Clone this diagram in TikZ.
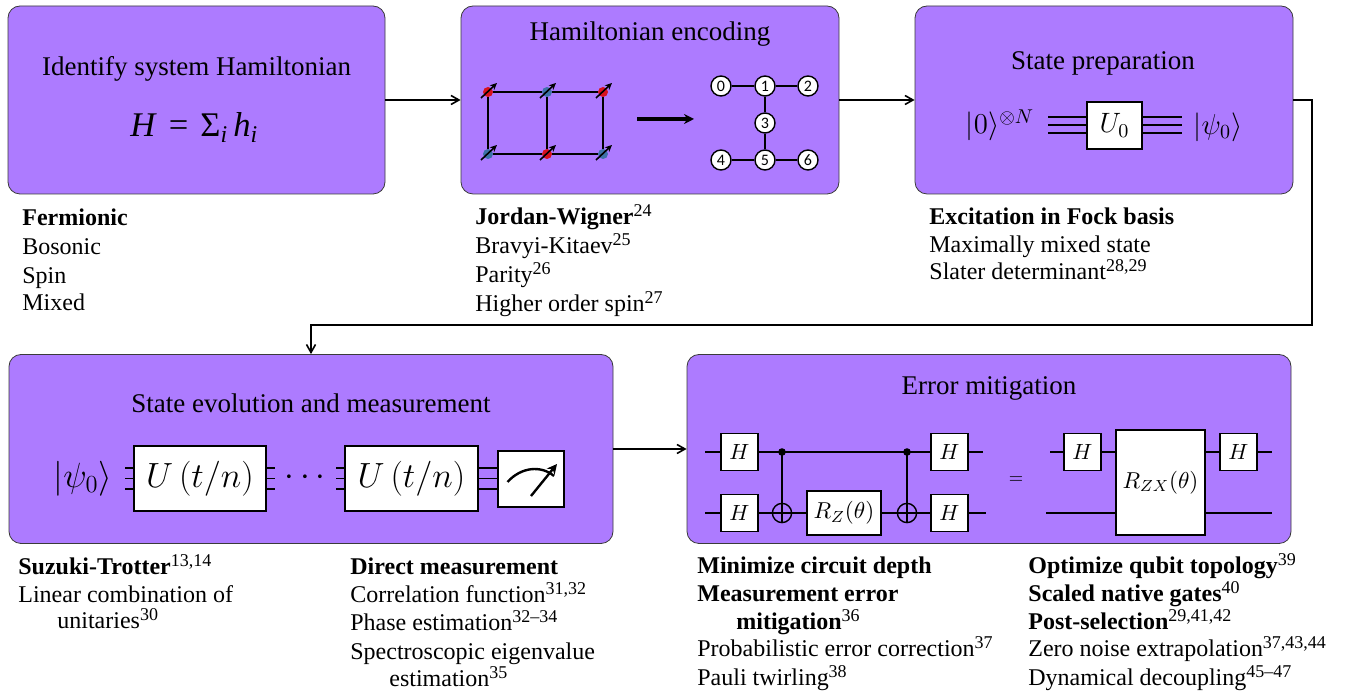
\documentclass[tikz,border=0pt]{standalone}
\IfFileExists{fix-cm.sty}{\usepackage{fix-cm}}{}
\usepackage[no-math]{fontspec}
\setmainfont{Liberation Serif}
\newfontfamily\digfont{Carlito}
\usetikzlibrary{arrows.meta}
\definecolor{boxpurple}{HTML}{AD7BFF}
\definecolor{boxedge}{HTML}{3A3A3A}
\definecolor{spinred}{HTML}{D8121E}
\definecolor{spinblue}{HTML}{3E72A8}
\newcommand\mysup[1]{\raisebox{4pt}{\fontsize{9}{9}\selectfont #1}}
\newcommand\mysub[1]{\raisebox{-3pt}{\fontsize{12}{12}\selectfont\textit{#1}}}
\tikzset{
  x=0.5pt,y=-0.5pt,
  procbox/.style={draw=boxedge,line width=0.4pt,fill=boxpurple,rounded corners=6pt,inner sep=0pt},
  flow/.style={line width=0.8pt,-{Straight Barb[length=4pt,width=4.5pt]}},
  lab/.style={anchor=base west,inner sep=0pt,font=\fontsize{12}{14}\selectfont},
  ttl/.style={anchor=center,inner sep=0pt,font=\fontsize{13.5}{15}\selectfont},
  bigm/.style={anchor=center,inner sep=0pt,font=\fontsize{14.4}{18}\selectfont},
  gate/.style={draw=black,line width=0.9pt,fill=white,inner sep=0pt,font=\fontsize{11.5}{14}\selectfont},
  hgate/.style={gate,minimum width=18.5pt,minimum height=18.5pt,font=\fontsize{11}{14}\selectfont},
  thick gate/.style={gate,line width=1.1pt,font=\fontsize{17.5}{20}\selectfont},
  wire/.style={line width=0.7pt},
  spin/.style={circle,inner sep=0pt,minimum size=5pt},
  spinred/.style={spin,fill=spinred},
  spinblue/.style={spin,fill=spinblue},
  spinarrow/.style={line width=0.8pt,-{Stealth[length=3.5pt,width=3.2pt]}},
  qnode/.style={circle,draw=black,line width=0.7pt,fill=white,inner sep=0pt,minimum size=10pt,font=\digfont\fontsize{8}{9}\selectfont},
  cdot/.style={circle,fill=black,inner sep=0pt,minimum size=3.8pt},
  tgt/.style={circle,draw=black,line width=0.7pt,inner sep=0pt,minimum size=9.6pt},
}
\begin{document}
\begin{tikzpicture}
\path[use as bounding box] (0,0) rectangle (1351,694);
% main boxes
\node[procbox,minimum width=188.5pt,minimum height=94pt] (b1) at (196.5,100) {};
\node[procbox,minimum width=189pt,minimum height=94pt] (b2) at (650,100) {};
\node[procbox,minimum width=189pt,minimum height=94pt] (b3) at (1104,100) {};
\node[procbox,minimum width=302pt,minimum height=94.5pt] (b4) at (311,449) {};
\node[procbox,minimum width=302pt,minimum height=94.5pt] (b5) at (989,449) {};
% flow
\coordinate (ta) at (1312,100);
\coordinate (tb) at (1312,325);
\coordinate (tc) at (311,325);
\draw[flow] (b1.east) -- (b2.west);
\draw[flow] (b2.east) -- (b3.west);
\draw[flow] (b3.east) -- (ta) -- (tb) -- (tc) -- (b4.north);
\draw[flow] (b4.east) -- (b5.west);
% titles
\node[ttl] (t1) at (196.5,69) {Identify system Hamiltonian};
\node[anchor=base west,inner sep=0pt,font=\fontsize{17.3}{20}\selectfont] (h1) at (130,137) {\textit{H}\hspace{6pt}=\hspace{6pt}Σ\mysub{i}\hspace{3pt}\textit{h}\mysub{i}};
\node[ttl] (t2) at (650,34) {Hamiltonian encoding};
\node[ttl] (t3) at (1103,63) {State preparation};
\node[ttl] (t4) at (311,403) {State evolution and measurement};
\node[ttl] (t5) at (989,388) {Error mitigation};
% lattice
\node[spinred] (s1) at (488,92) {};
\node[spinblue] (s2) at (547,92) {};
\node[spinred] (s3) at (603,92) {};
\node[spinblue] (s4) at (488,154) {};
\node[spinred] (s5) at (547,154) {};
\node[spinblue] (s6) at (603,154) {};
\draw[wire] (s1) -- (s2) -- (s3) -- (s6) -- (s5) -- (s4) -- (s1);
\draw[wire] (s2) -- (s5);
\foreach \n in {s1,s2,s3,s4,s5,s6}
  \draw[spinarrow] ([shift={(-7,6)}]\n.center) -- ([shift={(9,-9)}]\n.center);
\coordinate (ma) at (637,119);
\coordinate (mb) at (694,119);
\draw[line width=1.6pt,-{Stealth[length=5pt,width=5pt]}] (ma) -- (mb);
% graph
\node[qnode] (q0) at (721,86) {0};
\node[qnode] (q1) at (765,86) {1};
\node[qnode] (q2) at (808,86) {2};
\node[qnode] (q3) at (765,123) {3};
\node[qnode] (q4) at (721,160) {4};
\node[qnode] (q5) at (765,160) {5};
\node[qnode] (q6) at (808,160) {6};
\draw[wire] (q0) -- (q1);
\draw[wire] (q1) -- (q2);
\draw[wire] (q1) -- (q3);
\draw[wire] (q3) -- (q5);
\draw[wire] (q4) -- (q5);
\draw[wire] (q5) -- (q6);
% state preparation
\node[gate,minimum width=27.5pt,minimum height=23.5pt,font=\fontsize{14}{18}\selectfont] (u0) at (1114.5,125.5) {$U_0$};
\node[bigm] (ket0) at (1000,125) {$|0\rangle^{\otimes N}$};
\node[bigm] (psi0) at (1218,127) {$|\psi_0\rangle$};
\foreach \yy/\k in {117/a,125/b,133/c}{
  \coordinate (l\k) at (1048,\yy);
  \coordinate (r\k) at (1182,\yy);
  \coordinate (il\k) at (1087,\yy);
  \coordinate (ir\k) at (1142,\yy);
  \draw[line width=0.9pt] (l\k) -- (il\k);
  \draw[line width=0.9pt] (ir\k) -- (r\k);
}
% state evolution
\node[anchor=center,inner sep=0pt,font=\fontsize{17.5}{20}\selectfont] (psi1) at (83,479) {$|\psi_0\rangle$};
\node[thick gate,minimum width=66pt,minimum height=32.5pt] (ua) at (200,478.5) {$U\left(t/n\right)$};
\node[thick gate,minimum width=66.5pt,minimum height=32.5pt] (ub) at (411.5,478.5) {$U\left(t/n\right)$};
\node[gate,minimum width=33pt,minimum height=28pt] (meter) at (531,479) {};
\node[anchor=center,inner sep=0pt,font=\fontsize{17.5}{20}\selectfont] (dots) at (305,478) {$\cdots$};
\foreach \yy/\k in {468/a,478.5/b,489/c}{
  \coordinate (sa\k) at (125,\yy);
  \coordinate (sb\k) at (134,\yy);
  \coordinate (sc\k) at (266,\yy);
  \coordinate (sd\k) at (275,\yy);
  \coordinate (se\k) at (336,\yy);
  \coordinate (sf\k) at (345,\yy);
  \coordinate (sg\k) at (478,\yy);
  \coordinate (sh\k) at (498,\yy);
  \draw[line width=0.9pt] (sa\k) -- (sb\k);
  \draw[line width=0.9pt] (sc\k) -- (sd\k);
  \draw[line width=0.9pt] (se\k) -- (sf\k);
  \draw[line width=0.9pt] (sg\k) -- (sh\k);
}
\draw[line width=1.2pt] ([shift={(-23.5,3)}]meter.center) .. controls ([shift={(-10,-12)}]meter.center) and ([shift={(10,-14)}]meter.center) .. ([shift={(23,-3)}]meter.center);
\draw[line width=1.2pt,-{Stealth[length=5pt,width=5pt]}] ([shift={(0,17)}]meter.center) -- ([shift={(26,-15)}]meter.center);
% error mitigation, left circuit
\node[hgate] (h1a) at (739.5,452) {$H$};
\node[hgate] (h1b) at (739.5,513) {$H$};
\node[hgate] (h2a) at (949.5,452) {$H$};
\node[hgate] (h2b) at (949.5,513) {$H$};
\node[gate,minimum width=37pt,minimum height=22pt] (rz) at (844,513) {$R_Z(\theta)$};
\node[cdot] (c1) at (782,452) {};
\node[cdot] (c2) at (907,452) {};
\node[tgt] (x1) at (782,513) {};
\node[tgt] (x2) at (907,513) {};
\coordinate (wa) at (705,452);
\coordinate (wb) at (705,513);
\coordinate (wc) at (983,452);
\coordinate (wd) at (986,513);
\draw[wire] (wa) -- (h1a.west);
\draw[wire] (wb) -- (h1b.west);
\draw[wire] (h1a.east) -- (c1.center) -- (c2.center) -- (h2a.west);
\draw[wire] (h1b.east) -- (x1.west);
\draw[wire] (x1.west) -- (x1.east);
\draw[wire] (x1.east) -- (rz.west);
\draw[wire] (rz.east) -- (x2.west);
\draw[wire] (x2.west) -- (x2.east);
\draw[wire] (x2.east) -- (h2b.west);
\draw[wire] (h2a.east) -- (wc);
\draw[wire] (h2b.east) -- (wd);
\draw[wire] (c1.center) -- (x1.south);
\draw[wire] (c2.center) -- (x2.south);
\node[anchor=center,inner sep=0pt,font=\fontsize{9}{11}\selectfont] (eq) at (1016,480) {$=$};
% right circuit
\node[hgate] (h3a) at (1082.5,452) {$H$};
\node[hgate] (h4a) at (1238.5,452) {$H$};
\node[gate,minimum width=44.5pt,minimum height=52.5pt] (rzx) at (1160.5,482.5) {$R_{ZX}(\theta)$};
\coordinate (we) at (1050,452);
\coordinate (wf) at (1046,513);
\coordinate (wg) at (1272,452);
\coordinate (wh) at (1272,513);
\coordinate (ri) at (1116,452);
\coordinate (rj) at (1205,452);
\coordinate (rk) at (1116,513);
\coordinate (rl) at (1205,513);
\draw[wire] (we) -- (h3a.west);
\draw[wire] (h3a.east) -- (ri);
\draw[wire] (rj) -- (h4a.west);
\draw[wire] (h4a.east) -- (wg);
\draw[wire] (wf) -- (rk);
\draw[wire] (rl) -- (wh);
% captions
\node[lab] (a1) at (22,226) {\textbf{Fermionic}};
\node[lab] (a2) at (22,255) {Bosonic};
\node[lab] (a3) at (22,284) {Spin};
\node[lab] (a4) at (22,311) {Mixed};
\node[lab] (c1t) at (475,225) {\textbf{Jordan-Wigner}\mysup{24}};
\node[lab] (c2t) at (475,254) {Bravyi-Kitaev\mysup{25}};
\node[lab] (c3t) at (475,283) {Parity\mysup{26}};
\node[lab] (c4t) at (475,312) {Higher order spin\mysup{27}};
\node[lab] (d1) at (929,225) {\textbf{Excitation in Fock basis}};
\node[lab] (d2) at (929,253) {Maximally mixed state};
\node[lab] (d3) at (929,280) {Slater determinant\mysup{28,29}};
\node[lab] (e1) at (18,575) {\textbf{Suzuki-Trotter}\mysup{13,14}};
\node[lab] (e2) at (18,603) {Linear combination of};
\node[lab] (e3) at (57,629) {unitaries\mysup{30}};
\node[lab] (f1) at (350,575) {\textbf{Direct measurement}};
\node[lab] (f2) at (350,603) {Correlation function\mysup{31,32}};
\node[lab] (f3) at (350,631) {Phase estimation\mysup{32–34}};
\node[lab] (f4) at (350,660) {Spectroscopic eigenvalue};
\node[lab] (f5) at (389,687) {estimation\mysup{35}};
\node[lab] (g1) at (697,574) {\textbf{Minimize circuit depth}};
\node[lab] (g2) at (697,602) {\textbf{Measurement error}};
\node[lab] (g3) at (736,630) {\textbf{mitigation}\mysup{36}};
\node[lab] (g4) at (697,657) {Probabilistic error correction\mysup{37}};
\node[lab] (g5) at (697,686) {Pauli twirling\mysup{38}};
\node[lab] (k1) at (1028,574) {\textbf{Optimize qubit topology}\mysup{39}};
\node[lab] (k2) at (1028,602) {\textbf{Scaled native gates}\mysup{40}};
\node[lab] (k3) at (1028,630) {\textbf{Post-selection}\mysup{29,41,42}};
\node[lab] (k4) at (1028,657) {Zero noise extrapolation\mysup{37,43,44}};
\node[lab] (k5) at (1028,686) {Dynamical decoupling\mysup{45–47}};
\end{tikzpicture}
\end{document}
